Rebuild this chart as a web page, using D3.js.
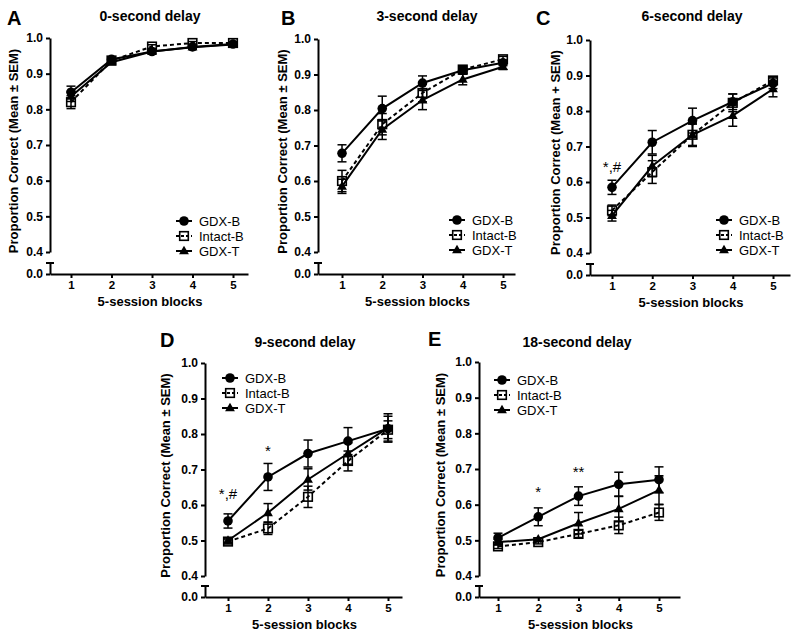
<!DOCTYPE html>
<html>
<head>
<meta charset="utf-8">
<script src="https://cdn.jsdelivr.net/npm/d3@7"></script>
<style>
  body { margin: 0; background: #fff; }
  svg { display: block; font-family: "Liberation Sans", Arial, sans-serif; }
</style>
</head>
<body>
<div id="chart"></div>
<script>
// data
var blocks = [1, 2, 3, 4, 5];
var seriesNames = ["GDX-B", "Intact-B", "GDX-T"];
var panelLetters = ["A", "B", "C", "D", "E"];
var delayTitles = ["0-second delay", "3-second delay", "6-second delay", "9-second delay", "18-second delay"];
var yLabels = ["Proportion Correct (Mean \u00b1 SEM)", "Proportion Correct (Mean \u00b1 SEM)",
               "Proportion Correct (Mean + SEM)", "Proportion Correct (Mean \u00b1 SEM)",
               "Proportion Correct (Mean \u00b1 SEM)"];
var yTicks = [0.4, 0.5, 0.6, 0.7, 0.8, 0.9, 1.0];

var gdxBMean = [
  [0.848, 0.940, 0.962, 0.975, 0.983],
  [0.678, 0.804, 0.876, 0.912, 0.933],
  [0.585, 0.712, 0.773, 0.826, 0.878],
  [0.555, 0.679, 0.745, 0.780, 0.815],
  [0.507, 0.566, 0.624, 0.657, 0.670]
];
var gdxBSem = [
  [0.017, 0.006, 0.005, 0.005, 0.004],
  [0.024, 0.035, 0.020, 0.010, 0.008],
  [0.020, 0.033, 0.035, 0.022, 0.015],
  [0.020, 0.038, 0.038, 0.038, 0.035],
  [0.013, 0.025, 0.026, 0.034, 0.036]
];
var intactBMean = [
  [0.820, 0.937, 0.976, 0.986, 0.986],
  [0.600, 0.760, 0.848, 0.914, 0.943],
  [0.520, 0.628, 0.733, 0.823, 0.886],
  [0.497, 0.534, 0.623, 0.724, 0.812],
  [0.483, 0.495, 0.518, 0.542, 0.578]
];
var intactBSem = [
  [0.018, 0.006, 0.005, 0.004, 0.004],
  [0.030, 0.030, 0.025, 0.010, 0.008],
  [0.015, 0.032, 0.033, 0.025, 0.010],
  [0.007, 0.017, 0.030, 0.028, 0.025],
  [0.006, 0.005, 0.010, 0.023, 0.022]
];
var gdxTMean = [
  [0.836, 0.932, 0.962, 0.974, 0.982],
  [0.585, 0.745, 0.828, 0.886, 0.922],
  [0.505, 0.645, 0.733, 0.787, 0.862],
  [0.500, 0.578, 0.672, 0.745, 0.817],
  [0.495, 0.503, 0.548, 0.588, 0.641]
];
var gdxTSem = [
  [0.014, 0.006, 0.005, 0.005, 0.004],
  [0.020, 0.028, 0.027, 0.015, 0.008],
  [0.015, 0.030, 0.030, 0.030, 0.022],
  [0.007, 0.026, 0.030, 0.030, 0.040],
  [0.008, 0.004, 0.030, 0.036, 0.040]
];
// significance marks: panel index, block, level (data units of the text centre)
var sigPanel = [2, 3, 3, 4, 4];
var sigBlock = [1, 1, 2, 2, 3];
var sigLevel = [0.642, 0.631, 0.763, 0.648, 0.704];
var sigText = ["*,#", "*,#", "*", "*", "**"];

// panel geometry (pixels)
var layout = [
  {ax: 50,  top: 38,  y04: 252, y00: 274, t1: 71,  t5: 233, end: 248, titleX: 150, titleY: 21,  letterX: 7,   letterY: 25,  ylabX: 13,  legX: 184, legY: 221},
  {ax: 318, top: 39,  y04: 252, y00: 274, t1: 342, t5: 503, end: 515, titleX: 427, titleY: 21,  letterX: 281, letterY: 25,  ylabX: 282, legX: 457, legY: 220},
  {ax: 590, top: 40,  y04: 253, y00: 275, t1: 612, t5: 773, end: 790, titleX: 692, titleY: 21,  letterX: 536, letterY: 25,  ylabX: 555, legX: 724, legY: 220},
  {ax: 205, top: 363, y04: 576, y00: 597, t1: 228, t5: 388, end: 402, titleX: 305, titleY: 347, letterX: 160, letterY: 347, ylabX: 165, legX: 230, legY: 378},
  {ax: 479, top: 362, y04: 576, y00: 597, t1: 498, t5: 659, end: 680, titleX: 577, titleY: 347, letterX: 428, letterY: 346, ylabX: 440, legX: 502, legY: 380}
];

var svg = d3.select("#chart").append("svg")
  .attr("width", 800)
  .attr("height", 637);

function drawMarker(g, kind, cx, cy) {
  if (kind == 0) {
    g.append("circle").attr("cx", cx).attr("cy", cy).attr("r", 4.8).attr("fill", "#000");
  } else if (kind == 1) {
    g.append("rect").attr("x", cx - 4.3).attr("y", cy - 4.3).attr("width", 8.6).attr("height", 8.6)
      .attr("fill", "none").attr("stroke", "#000").attr("stroke-width", 1.6);
  } else {
    var tri = d3.symbol().type(d3.symbolTriangle).size(42);
    g.append("path").attr("d", tri()).attr("transform", "translate(" + cx + "," + (cy + 0.5) + ")")
      .attr("fill", "#000");
  }
}

function drawPanel(p) {
  var L = layout[p];
  var g = svg.append("g");

  var x = d3.scaleLinear().domain([1, 5]).range([L.t1, L.t5]);
  var xAxisScale = x.copy().domain([x.invert(L.ax), x.invert(L.end)]).range([L.ax, L.end]);
  var y = d3.scaleLinear().domain([0.4, 1.0]).range([L.y04, L.top]);
  var yLow = d3.scaleLinear().domain([0, 1]).range([L.y00, L.y00 - 11]);

  // axes
  var xa = g.append("g").attr("transform", "translate(0," + L.y00 + ")")
    .call(d3.axisBottom(xAxisScale).tickValues(blocks).tickSize(4).tickSizeOuter(0).tickPadding(3).tickFormat(d3.format("d")));
  var ya = g.append("g").attr("transform", "translate(" + L.ax + ",0)")
    .call(d3.axisLeft(y).tickValues(yTicks).tickSize(4).tickSizeOuter(0).tickPadding(3).tickFormat(d3.format(".1f")));
  var yl = g.append("g").attr("transform", "translate(" + L.ax + ",0)")
    .call(d3.axisLeft(yLow).tickValues([0]).tickSize(4).tickSizeOuter(0).tickPadding(3).tickFormat(d3.format(".1f")));
  g.append("line").attr("x1", L.ax - 4).attr("x2", L.ax + 4)
    .attr("y1", L.y00 - 11).attr("y2", L.y00 - 11)
    .attr("stroke", "#000").attr("stroke-width", 2);

  [xa, ya, yl].forEach(function(a) {
    a.selectAll("path, line").attr("stroke", "#000").attr("stroke-width", 2);
    a.selectAll("text").attr("fill", "#000").style("font-size", "12px").style("font-weight", "bold");
  });
  xa.selectAll("text").style("font-size", "11.5px");

  // titles and labels
  g.append("text").attr("x", L.letterX).attr("y", L.letterY).text(panelLetters[p])
    .style("font-size", "20px").style("font-weight", "bold");
  g.append("text").attr("x", L.titleX).attr("y", L.titleY).attr("text-anchor", "middle")
    .text(delayTitles[p]).style("font-size", "14px").style("font-weight", "bold");
  g.append("text").attr("x", (L.ax + L.end) / 2 + 1).attr("y", L.y00 + 32).attr("text-anchor", "middle")
    .text("5-session blocks").style("font-size", "13px").style("font-weight", "bold");
  g.append("text")
    .attr("transform", "translate(" + (L.ylabX + 4.5) + "," + ((L.top + L.y04) / 2 + 6) + ") rotate(-90)")
    .attr("text-anchor", "middle")
    .text(yLabels[p]).style("font-size", "13px").style("font-weight", "bold");

  var means = [gdxBMean[p], intactBMean[p], gdxTMean[p]];
  var sems = [gdxBSem[p], intactBSem[p], gdxTSem[p]];
  var order = [1, 2, 0];

  var line = d3.line().x(function(d, i) { return x(blocks[i]); }).y(function(d) { return y(d); });

  order.forEach(function(s) {
    var sg = g.append("g");
    // error bars
    means[s].forEach(function(m, i) {
      var cx = x(blocks[i]);
      var y1 = y(m + sems[s][i]), y2 = y(m - sems[s][i]);
      sg.append("line").attr("x1", cx).attr("x2", cx).attr("y1", y1).attr("y2", y2)
        .attr("stroke", "#000").attr("stroke-width", 1.5);
      [y1, y2].forEach(function(yy) {
        sg.append("line").attr("x1", cx - 4.5).attr("x2", cx + 4.5).attr("y1", yy).attr("y2", yy)
          .attr("stroke", "#000").attr("stroke-width", 1.5);
      });
    });
    sg.append("path").attr("d", line(means[s])).attr("fill", "none")
      .attr("stroke", "#000").attr("stroke-width", 2)
      .attr("stroke-dasharray", s == 1 ? "4,3" : null);
    means[s].forEach(function(m, i) {
      drawMarker(sg, s, x(blocks[i]), y(m));
    });
  });

  // legend
  seriesNames.forEach(function(name, s) {
    var ly = L.legY + s * 15;
    g.append("line").attr("x1", L.legX - 8).attr("x2", L.legX + 8).attr("y1", ly).attr("y2", ly)
      .attr("stroke", "#000").attr("stroke-width", 2)
      .attr("stroke-dasharray", s == 1 ? "3,2" : null);
    drawMarker(g, s, L.legX, ly);
    g.append("text").attr("x", L.legX + 15).attr("y", ly + 4.5).text(name)
      .style("font-size", "13px");
  });

  // significance marks
  sigPanel.forEach(function(sp, k) {
    if (sp != p) return;
    var off = sigText[k].indexOf("#") >= 0 ? 5 : 9;
    g.append("text").attr("x", x(sigBlock[k])).attr("y", y(sigLevel[k]) + off)
      .attr("text-anchor", "middle").text(sigText[k]).style("font-size", "15px");
  });
}

for (var p = 0; p < layout.length; p++) drawPanel(p);
</script>
</body>
</html>
